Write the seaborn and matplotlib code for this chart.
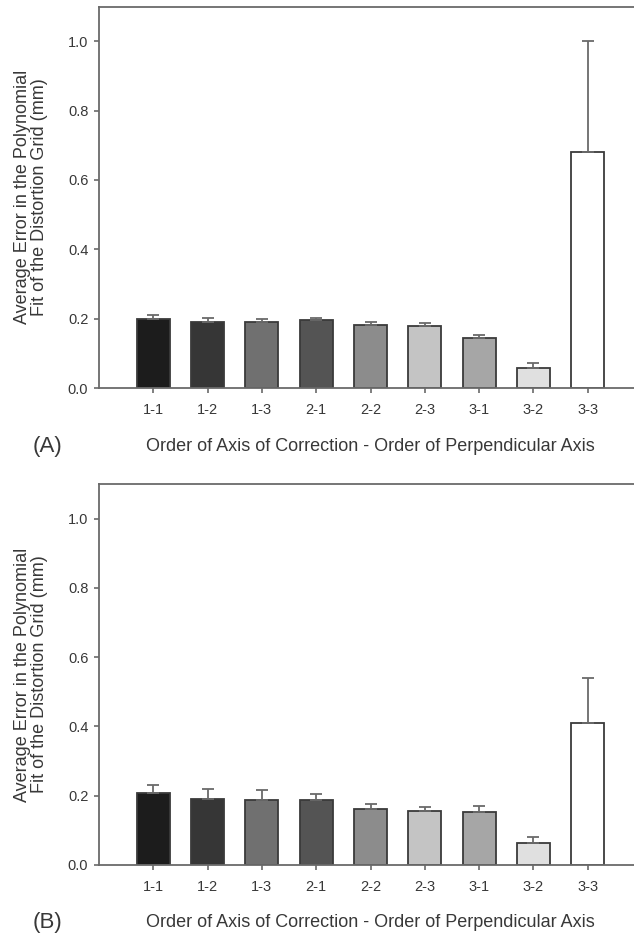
import matplotlib
matplotlib.use('Agg')
import matplotlib.pyplot as plt
import numpy as np
import pandas as pd
import seaborn as sns

sns.set_style('ticks')
plt.rcParams['font.family'] = ['Liberation Sans', 'DejaVu Sans']

# 数据
categories = ['1-1', '1-2', '1-3', '2-1', '2-2', '2-3', '3-1', '3-2', '3-3']
mean_a = [0.200, 0.191, 0.189, 0.195, 0.183, 0.179, 0.143, 0.058, 0.680]
err_a = [0.012, 0.012, 0.011, 0.006, 0.007, 0.009, 0.010, 0.014, 0.320]
mean_b = [0.207, 0.190, 0.188, 0.188, 0.161, 0.155, 0.153, 0.063, 0.409]
err_b = [0.024, 0.030, 0.027, 0.018, 0.016, 0.012, 0.017, 0.018, 0.130]
bar_colors = ['#1c1c1c', '#363636', '#707070', '#545454', '#8c8c8c',
              '#c4c4c4', '#a6a6a6', '#e0e0e0', '#ffffff']
panel_labels = ['(A)', '(B)']

ylabel = 'Average Error in the Polynomial\nFit of the Distortion Grid (mm)'
xlabel = 'Order of Axis of Correction - Order of Perpendicular Axis'
line_col = '#6a6a6a'
text_col = '#383838'

fig = plt.figure(figsize=(6.34, 9.35), dpi=100)
ax_a = fig.add_axes([0.156, 0.585, 0.844, 0.408])
ax_b = fig.add_axes([0.156, 0.0749, 0.844, 0.4075])

for ax, means, errs, lab in zip([ax_a, ax_b], [mean_a, mean_b], [err_a, err_b], panel_labels):
    df = pd.DataFrame({'cat': categories, 'val': means})
    sns.barplot(data=df, x='cat', y='val', hue='cat', palette=bar_colors,
                legend=False, width=0.61, edgecolor='#3a3a3a', linewidth=1.3,
                errorbar=None, ax=ax)
    # 只画向上的误差线
    pos = np.arange(len(categories))
    ax.errorbar(pos, means, yerr=[np.zeros(len(errs)), errs], fmt='none',
                ecolor=line_col, elinewidth=1.3, capsize=4.3, capthick=1.3, zorder=1)
    ax.set_xlim(-1, 8.85)
    ax.set_ylim(0, 1.1)
    ax.set_yticks([0.0, 0.2, 0.4, 0.6, 0.8, 1.0])
    ax.set_yticklabels(['0.0', '0.2', '0.4', '0.6', '0.8', '1.0'])
    ax.tick_params(axis='both', colors=line_col, labelcolor=text_col,
                   labelsize=10.5, length=3.6, width=1.2)
    ax.tick_params(axis='x', pad=7)
    ax.tick_params(axis='y', pad=4)
    ax.spines['right'].set_visible(False)
    for s in ['left', 'bottom', 'top']:
        ax.spines[s].set_color(line_col)
        ax.spines[s].set_linewidth(1.3)
    ax.set_ylabel(ylabel, fontsize=13, color=text_col, linespacing=1.0, va='center')
    ax.yaxis.set_label_coords(-0.127, 0.5)
    ax.set_xlabel(xlabel, fontsize=13, color=text_col, va='center')
    ax.xaxis.set_label_coords(0.508, -0.152)
    bb = ax.get_position()
    fig.text(47 / 634, bb.y0 - 58 / 935, lab, fontsize=16, color=text_col,
             ha='center', va='center')

fig.savefig('out.png', dpi=100)
